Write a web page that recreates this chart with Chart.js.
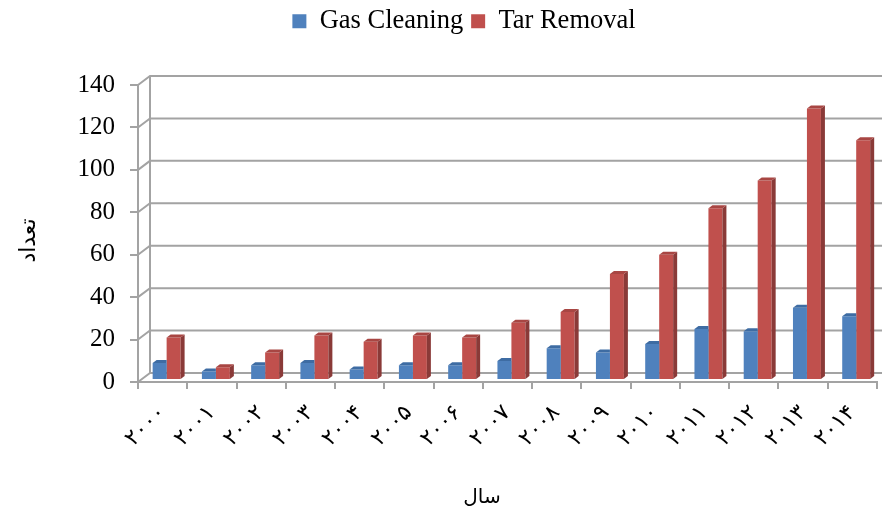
<!DOCTYPE html>
<html>
<head>
<meta charset="utf-8">
<script src="https://cdn.jsdelivr.net/npm/chart.js@4/dist/chart.umd.min.js"></script>
<style>
  html, body { margin: 0; padding: 0; background: #ffffff; }
  canvas { display: block; }
</style>
</head>
<body>
<canvas id="chart" width="882" height="511"></canvas>
<script>
// ---- data ----
const categories = ['۲۰۰۰','۲۰۰۱','۲۰۰۲','۲۰۰۳','۲۰۰۴','۲۰۰۵','۲۰۰۶','۲۰۰۷','۲۰۰۸','۲۰۰۹','۲۰۱۰','۲۰۱۱','۲۰۱۲','۲۰۱۳','۲۰۱۴'];
const gasCleaning = [8, 4, 7, 8, 5, 7, 7, 9, 15, 13, 17, 24, 23, 34, 30];
const tarRemoval  = [20, 6, 13, 21, 18, 21, 20, 27, 32, 50, 59, 81, 94, 128, 113];
const seriesNames = ['Gas Cleaning', 'Tar Removal'];
const yTicks = [0, 20, 40, 60, 80, 100, 120, 140];
const xTitle = 'سال';
const yTitle = 'تعداد';

// ---- styles ----
const WALL = { dx: 12, dy: -9, color: '#a3a3a3', width: 2 };
const BAR3D = { dx: 4, dy: -3 };
const BAR_SHIFT = { x: 4, y: -2 };
const LEGEND_SHIFT = 25;
const faces = [
  { front: '#4f81bd', side: '#385d8a', top: '#3e6ca3' },
  { front: '#c0504d', side: '#8a3a38', top: '#a84643' }
];

const plugin3d = {
  id: 'plugin3d',
  afterInit(chart) {
    const lg = chart.legend;
    const f = lg.fit;
    lg.fit = function () { f.call(this); this.height = 85; };
    const d = lg.draw;
    lg.draw = function () {
      this.ctx.save();
      this.ctx.translate(LEGEND_SHIFT, 0);
      d.call(this);
      this.ctx.restore();
    };
  },
  beforeDatasetsDraw(chart) {
    const { ctx, chartArea: a, scales: { y } } = chart;
    ctx.save();
    ctx.strokeStyle = WALL.color;
    ctx.lineWidth = WALL.width;
    yTicks.forEach(v => {
      const py = y.getPixelForValue(v);
      ctx.beginPath();
      ctx.moveTo(a.left, py);
      ctx.lineTo(a.left + WALL.dx, py + WALL.dy);
      ctx.lineTo(chart.width, py + WALL.dy);
      ctx.stroke();
    });
    ctx.beginPath();
    ctx.moveTo(a.left + WALL.dx, y.getPixelForValue(yTicks[yTicks.length - 1]) + WALL.dy);
    ctx.lineTo(a.left + WALL.dx, y.getPixelForValue(0) + WALL.dy);
    ctx.stroke();
    ctx.restore();
  },
  beforeDatasetDraw(chart) {
    chart.ctx.save();
    chart.ctx.translate(BAR_SHIFT.x, BAR_SHIFT.y);
  },
  afterDatasetDraw(chart, args) {
    const ctx = chart.ctx;
    const c = faces[args.index];
    const next = chart.getDatasetMeta(args.index + 1);
    args.meta.data.forEach((bar, i) => {
      const { x, y, base, width } = bar.getProps(['x', 'y', 'base', 'width'], true);
      const l = x - width / 2, r = x + width / 2;
      ctx.save();
      // the neighbouring bar to the right stands in front of this bar's hidden faces
      if (next && next.data && next.data[i]) {
        const nb = next.data[i].getProps(['x', 'y', 'base', 'width'], true);
        ctx.beginPath();
        ctx.rect(-50, -50, chart.width + 100, chart.height + 100);
        ctx.rect(nb.x - nb.width / 2, nb.y, nb.width, nb.base - nb.y);
        ctx.clip('evenodd');
      }
      ctx.fillStyle = c.side;
      ctx.beginPath();
      ctx.moveTo(r, y); ctx.lineTo(r + BAR3D.dx, y + BAR3D.dy);
      ctx.lineTo(r + BAR3D.dx, base + BAR3D.dy); ctx.lineTo(r, base);
      ctx.closePath(); ctx.fill();
      ctx.fillStyle = c.top;
      ctx.beginPath();
      ctx.moveTo(l, y); ctx.lineTo(l + BAR3D.dx, y + BAR3D.dy);
      ctx.lineTo(r + BAR3D.dx, y + BAR3D.dy); ctx.lineTo(r, y);
      ctx.closePath(); ctx.fill();
      ctx.restore();
    });
    ctx.restore();
  }
};

new Chart(document.getElementById('chart'), {
  type: 'bar',
  data: {
    labels: categories,
    datasets: [
      { label: seriesNames[0], data: gasCleaning, backgroundColor: faces[0].front, borderWidth: 0,
        categoryPercentage: 0.5676, barPercentage: 1.0 },
      { label: seriesNames[1], data: tarRemoval, backgroundColor: faces[1].front, borderWidth: 0,
        categoryPercentage: 0.5676, barPercentage: 1.0 }
    ]
  },
  options: {
    responsive: false,
    animation: false,
    devicePixelRatio: 1,
    layout: { padding: { left: 0, right: 4, top: 0, bottom: 0 } },
    plugins: {
      legend: {
        position: 'top',
        labels: {
          boxWidth: 14, boxHeight: 14, padding: 8, color: '#000',
          font: { family: '"Liberation Serif", "Times New Roman", serif', size: 26.5 }
        }
      },
      tooltip: { enabled: false }
    },
    scales: {
      x: {
        grid: { offset: true, drawOnChartArea: false, drawTicks: true, tickLength: 7, color: WALL.color, lineWidth: 2 },
        border: { color: WALL.color, width: 2 },
        ticks: { autoSkip: false, maxRotation: 45, minRotation: 45, color: '#000', padding: 11,
                 font: { family: '"DejaVu Sans"', size: 22 } },
        title: { display: true, text: xTitle + '\u00a0'.repeat(8), color: '#000',
                 font: { family: '"DejaVu Sans"', size: 20 }, padding: { top: 0, bottom: 1 } },
        afterFit(s) { s.height = 511 - 382; }
      },
      y: {
        min: 0, max: 140,
        ticks: { stepSize: 20, color: '#000', padding: 15,
                 font: { family: '"Liberation Serif", "Times New Roman", serif', size: 25 } },
        grid: { drawOnChartArea: false, drawTicks: true, tickLength: 8, color: WALL.color, lineWidth: 2 },
        border: { color: WALL.color, width: 2 },
        title: { display: true, text: yTitle + '\u00a0\u00a0', color: '#000',
                 font: { family: '"DejaVu Sans"', size: 22 }, padding: { top: 16, bottom: 0 } },
        afterFit(s) { s.width = 138; }
      }
    }
  },
  plugins: [plugin3d]
});
</script>
</body>
</html>
